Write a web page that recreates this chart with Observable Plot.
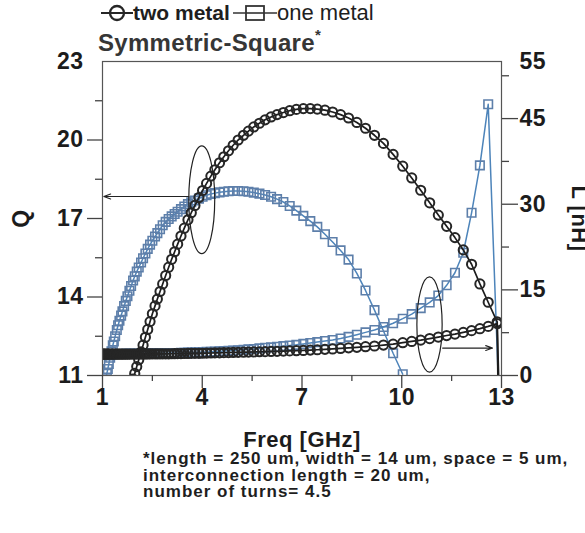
<!DOCTYPE html>
<html><head><meta charset="utf-8">
<script src="https://cdn.jsdelivr.net/npm/d3@7"></script>
<script src="https://cdn.jsdelivr.net/npm/@observablehq/plot@0.6"></script>
<style>
body{margin:0;background:#fff;font-family:"Liberation Sans",Arial,sans-serif;color:#222}
#wrap{width:585px;height:533px;position:relative;overflow:hidden;background:#fff}
#head{position:relative;width:585px;height:51px}
#head .lg{position:absolute;top:2px;line-height:22px;font-size:21px;color:#1e1e1e}
#head .ttl{position:absolute;left:98px;top:25px;line-height:24px;font-size:24px;letter-spacing:0.3px;font-weight:bold;color:#363636}
#head .ttl sup{font-size:15px;position:relative;top:-2px}
#cap{margin-left:143px;font-size:17px;font-weight:bold;letter-spacing:1px;line-height:16.5px;color:#1e1e1e}
#chart svg{display:block;overflow:visible}
</style></head><body>
<div id="wrap">
<div id="head"></div>
<div id="chart"></div>
<div id="cap"></div>
</div>
<script>
// ---- data ----
const seriesNames = ["two metal", "one metal"];
const titleText = "Symmetric-Square";
const captionLines = ["*length = 250 um, width = 14 um, space = 5 um,", "interconnection length = 20 um,", "number of turns= 4.5"];
const xLabel = "Freq [GHz]";
const qLabel = "Q";
const lLabel = "L [nH]";
const xMajor = [1, 4, 7, 10, 13];
const xMinor = [2.5, 5.5, 8.5, 11.5];
const qMajor = [11, 14, 17, 20];
const qMinor = [12.5, 15.5, 18.5, 21.5];
const qTop = [23];
const lMajor = [0, 15, 30, 45];
const lMinor = [7.5, 22.5, 37.5, 52.5];
const lTop = [55];

const freq = [1.00,1.03,1.06,1.09,1.13,1.16,1.19,1.23,1.27,1.31,
 1.34,1.38,1.43,1.47,1.51,1.56,1.60,1.65,1.70,1.75,
 1.81,1.86,1.92,1.97,2.03,2.09,2.16,2.22,2.29,2.36,
 2.43,2.50,2.58,2.65,2.73,2.81,2.90,2.99,3.08,3.17,
 3.26,3.36,3.46,3.57,3.67,3.78,3.90,4.01,4.13,4.26,
 4.38,4.52,4.65,4.79,4.93,5.08,5.24,5.39,5.55,5.72,
 5.89,6.07,6.25,6.44,6.63,6.83,7.04,7.25,7.46,7.69,
 7.92,8.16,8.40,8.65,8.91,9.18,9.45,9.74,10.03,10.30,
 10.57,10.84,11.10,11.35,11.60,11.85,12.10,12.35,12.60,12.87,
 12.96];

const qTwoMetal = [null,null,null,null,null,null,null,null,null,null,
 null,null,null,null,null,null,null,null,null,null,
 null,null,10.86,11.08,11.34,11.6,11.9,12.16,12.46,12.76,
 13.06,13.36,13.66,13.92,14.21,14.5,14.82,15.14,15.44,15.73,
 16.02,16.33,16.63,16.95,17.22,17.5,17.8,18.07,18.34,18.62,
 18.86,19.13,19.36,19.59,19.8,20.0,20.18,20.34,20.5,20.64,
 20.77,20.88,20.97,21.05,21.12,21.17,21.2,21.2,21.18,21.14,
 21.07,20.97,20.84,20.67,20.45,20.18,19.87,19.45,19.0,18.55,
 18.08,17.6,17.13,16.7,16.27,15.8,15.25,14.5,13.8,13.05,
 4];

const qOneMetal = [null,null,null,10.85,11.07,11.25,11.44,11.68,11.92,12.15,
 12.3,12.5,12.74,12.92,13.09,13.29,13.45,13.65,13.85,14.03,
 14.24,14.42,14.63,14.79,14.97,15.13,15.32,15.48,15.66,15.84,
 16.0,16.15,16.31,16.44,16.59,16.74,16.87,16.98,17.08,17.17,
 17.26,17.36,17.46,17.55,17.62,17.69,17.76,17.83,17.89,17.94,
 17.97,18.0,18.02,18.04,18.05,18.05,18.04,18.02,17.99,17.95,
 17.9,17.83,17.74,17.63,17.48,17.3,17.1,16.9,16.68,16.4,
 16.1,15.78,15.43,14.9,14.25,13.5,12.7,11.85,11.05,null,
 null,null,null,null,null,null,null,null,null,null,
 null];

const lTwoMetal = [3.75,3.75,3.75,3.75,3.75,3.75,3.75,3.75,3.75,3.75,
 3.75,3.75,3.75,3.75,3.75,3.76,3.76,3.76,3.76,3.76,
 3.76,3.77,3.77,3.77,3.77,3.77,3.78,3.78,3.78,3.78,
 3.79,3.79,3.79,3.8,3.8,3.8,3.8,3.8,3.81,3.82,
 3.83,3.84,3.85,3.86,3.87,3.88,3.89,3.9,3.92,3.94,
 3.96,3.98,4.0,4.02,4.04,4.06,4.08,4.11,4.13,4.16,
 4.18,4.21,4.24,4.28,4.31,4.35,4.39,4.45,4.51,4.58,
 4.65,4.74,4.84,4.94,5.05,5.17,5.33,5.5,5.75,5.97,
 6.2,6.47,6.73,7.0,7.25,7.55,7.86,8.2,8.6,9.1,
 -10];

const lOneMetal = [3.75,3.75,3.75,3.75,3.75,3.75,3.75,3.75,3.75,3.75,
 3.76,3.76,3.76,3.76,3.77,3.77,3.77,3.78,3.78,3.78,
 3.79,3.79,3.8,3.8,3.8,3.81,3.82,3.82,3.83,3.84,
 3.84,3.85,3.86,3.86,3.87,3.88,3.89,3.9,3.92,3.93,
 3.95,3.97,3.99,4.01,4.03,4.06,4.08,4.1,4.13,4.17,
 4.21,4.25,4.29,4.34,4.38,4.43,4.5,4.57,4.64,4.75,
 4.85,4.93,5.03,5.14,5.25,5.37,5.53,5.68,5.85,6.03,
 6.23,6.48,6.77,7.15,7.55,7.97,8.5,9.15,9.95,10.75,
 11.8,12.8,14.0,15.8,18.0,21.5,28.5,36.8,47.5,null,
 -10];

// annotations (data coordinates: freq, Q)
const ellipseFreq = [4.0, 10.85];
const ellipseQ = [17.7, 12.93];
const ellipseRadF = [0.39, 0.38];
const ellipseRadQ = [2.06, 1.82];
const arrowFrom = [3.6, 11.23];
const arrowTo = [1.04, 12.73];
const arrowQ = [17.84, 12.05];

// ---- styles ----
const DARK = "#262626", DARKLINE = "#1c1c1c";
const BLUE = "#5d7faa", BLUELINE = "#4d84ba";

// ---- header (legend + title) ----
const head = document.getElementById("head");
head.innerHTML =
 `<svg style="position:absolute;left:101px;top:4px" width="32" height="18"><line x1="0" y1="9" x2="32" y2="9" stroke="${DARK}" stroke-width="2"/><circle cx="16" cy="9" r="7" fill="#fff" stroke="${DARK}" stroke-width="2.3"/><line x1="9" y1="9" x2="23" y2="9" stroke="${DARK}" stroke-width="2"/></svg>` +
 `<span class="lg" style="left:133px;font-weight:bold">${seriesNames[0]}</span>` +
 `<svg style="position:absolute;left:233px;top:4px" width="44" height="18"><line x1="0" y1="9" x2="44" y2="9" stroke="#333" stroke-width="1.6"/><rect x="13" y="2" width="18" height="14" fill="#fff" stroke="#333" stroke-width="1.8"/><line x1="13" y1="9" x2="31" y2="9" stroke="#333" stroke-width="1.6"/></svg>` +
 `<span class="lg" style="left:277px;font-size:22px">${seriesNames[1]}</span>` +
 `<span class="ttl">${titleText}<sup>*</sup></span>`;

document.getElementById("cap").innerHTML = captionLines.map(s => `<div>${s}</div>`).join("");

// ---- chart ----
const toQ = L => 11 + L * 12 / 55;
const fromQ = q => (q - 11) * 55 / 12;
const rows = (arr, tf = v => v) => freq.map((f, i) => ({f, v: arr[i] == null ? null : tf(arr[i])})).filter(d => d.v != null);
const tQ = rows(qTwoMetal), oQ = rows(qOneMetal);
const tL = rows(lTwoMetal, toQ), oL = rows(lOneMetal, toQ);

const ellipses = ellipseFreq.map((f, i) => ({f, q: ellipseQ[i], rf: ellipseRadF[i], rq: ellipseRadQ[i]}));
const arrows = arrowFrom.map((x1, i) => ({x1, x2: arrowTo[i], q: arrowQ[i]}));

const ellipseMark = (index, scales) => {
  const g = d3.create("svg:g").attr("fill", "none").attr("stroke", "#222").attr("stroke-width", 1.2);
  for (const e of ellipses) {
    const cx = scales.x(e.f), cy = scales.y(e.q);
    g.append("ellipse").attr("cx", cx).attr("cy", cy)
      .attr("rx", Math.abs(scales.x(e.f + e.rf) - cx))
      .attr("ry", Math.abs(scales.y(e.q + e.rq) - cy));
  }
  return g.node();
};

const tickStyle = {stroke: "#444", strokeWidth: 1.3, fill: "#1c1c1c", fontSize: 23, fontWeight: "bold", label: null};

const chart = Plot.plot({
  width: 585, height: 400,
  marginLeft: 102, marginRight: 84, marginTop: 10, marginBottom: 76,
  x: {domain: [1, 13], label: null},
  y: {domain: [11, 23], label: null},
  style: {fontFamily: "'Liberation Sans', Arial, sans-serif", fontSize: "23px", fontWeight: "bold", color: "#1c1c1c", background: "#fff", letterSpacing: "0.5px"},
  marks: [
    // one metal (drawn first)
    Plot.line(oQ, {x: "f", y: "v", stroke: BLUELINE, strokeWidth: 1.5, clip: true}),
    Plot.dot(oQ, {x: "f", y: "v", symbol: "square", r: 4.8, stroke: BLUE, strokeWidth: 1.6, fill: "none", clip: true}),
    Plot.line(oL, {x: "f", y: "v", stroke: BLUELINE, strokeWidth: 1.5, clip: true}),
    Plot.dot(oL, {x: "f", y: "v", symbol: "square", r: 4.8, stroke: BLUE, strokeWidth: 1.6, fill: "none", clip: true}),
    // two metal
    Plot.line(tQ, {x: "f", y: "v", stroke: DARKLINE, strokeWidth: 1.7, clip: true}),
    Plot.dot(tQ, {x: "f", y: "v", r: 4.6, stroke: DARK, strokeWidth: 2, fill: "none", clip: true}),
    Plot.line(tL, {x: "f", y: "v", stroke: DARKLINE, strokeWidth: 1.7, clip: true}),
    Plot.dot(tL, {x: "f", y: "v", r: 4.6, stroke: DARK, strokeWidth: 2, fill: "none", clip: true}),
    // annotations
    ellipseMark,
    Plot.arrow(arrows, {x1: "x1", x2: "x2", y1: "q", y2: "q", stroke: "#222", strokeWidth: 1.2, headLength: 9, headAngle: 40}),
    // frame & axes
    Plot.frame({stroke: "#555", strokeWidth: 1.2}),
    Plot.axisX({...tickStyle, ticks: xMajor, tickSize: 13, tickPadding: 0, tickFormat: d => String(d)}),
    Plot.axisX({...tickStyle, ticks: xMinor, tickSize: 6, tickFormat: () => ""}),
    Plot.axisY({...tickStyle, ticks: qMajor, tickSize: 15, tickPadding: 4, tickFormat: d => String(d)}),
    Plot.axisY({...tickStyle, ticks: qMinor, tickSize: 7, tickFormat: () => ""}),
    Plot.axisY({...tickStyle, ticks: qTop, tickSize: 0, tickPadding: 19, tickFormat: d => String(d)}),
    Plot.axisY({...tickStyle, anchor: "right", ticks: lMajor.map(toQ), tickSize: 16, tickPadding: 2, tickFormat: q => String(Math.round(fromQ(q)))}),
    Plot.axisY({...tickStyle, anchor: "right", ticks: lMinor.map(toQ), tickSize: 7, tickFormat: () => ""}),
    Plot.axisY({...tickStyle, anchor: "right", ticks: lTop.map(toQ), tickSize: 0, tickPadding: 18, tickFormat: q => String(Math.round(fromQ(q)))}),
    // axis titles
    Plot.text([xLabel], {frameAnchor: "bottom", textAnchor: "middle", text: d => d, dy: 71, fontSize: 22, fontWeight: "bold", fill: "#1c1c1c", style: "letter-spacing:2.4px"}),
    Plot.text([qLabel], {frameAnchor: "left", textAnchor: "middle", text: d => d, dx: -81, rotate: -90, fontSize: 23, fontWeight: "bold", fill: "#1c1c1c"}),
    Plot.text([lLabel], {frameAnchor: "right", textAnchor: "middle", text: d => d, dx: 78, rotate: 90, fontSize: 22, fontWeight: "bold", fill: "#1c1c1c"})
  ]
});
document.getElementById("chart").appendChild(chart);
</script>
</body></html>
